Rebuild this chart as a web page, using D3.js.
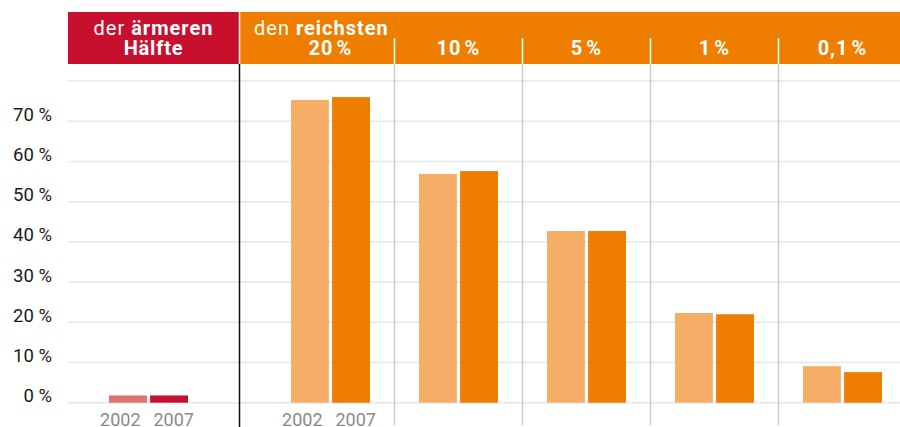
<!DOCTYPE html>
<html><head><meta charset="utf-8">
<script src="https://cdn.jsdelivr.net/npm/d3@7"></script>
<style>body{margin:0;background:#fff}svg{display:block;font-family:Roboto,"Helvetica Neue",Arial,sans-serif}</style>
</head><body><svg id="c" width="900" height="427"></svg>
<script>
const years = ["2002", "2007"];
const poorLabel = ["der ", "ärmeren", "Hälfte"];
const poorValues = [1.8, 1.8];
const richGroups = ["20 %", "10 %", "5 %", "1 %", "0,1 %"];
const richValues2002 = [75.3, 56.9, 42.7, 22.3, 9.1];
const richValues2007 = [76.0, 57.6, 42.7, 22.0, 7.6];
const yTicks = [0, 10, 20, 30, 40, 50, 60, 70, 80];

const svg = d3.select("#c");
const y = d3.scaleLinear().domain([0, 80]).range([402.7, 81]);
const xRich = d3.scaleBand().domain(richGroups).range([266.5, 906.5]);
const xPoor = d3.scaleBand().domain(["poor"]).range([84.5, 212.5]);
const xInner = d3.scaleBand().domain(years).range([-39.5, 39.5]).paddingInner(3/79*2.05);

// gridlines
svg.append("g").selectAll("line").data(yTicks).join("line")
  .attr("x1", 68).attr("x2", 900).attr("y1", d => y(d)).attr("y2", d => y(d))
  .attr("stroke", "#e6e6e6").attr("stroke-width", 1.5);
svg.append("g").selectAll("text").data(yTicks.filter(d => d < 80)).join("text")
  .attr("x", 52).attr("y", d => y(d) - 0.5).attr("text-anchor", "end")
  .attr("font-size", 18.5).attr("fill", "#1a1a1a").text(d => d + " %");

// header
svg.append("rect").attr("x", 68).attr("y", 12).attr("width", 171).attr("height", 52).attr("fill", "#c8102e");
svg.append("rect").attr("x", 240).attr("y", 12).attr("width", 660).attr("height", 52).attr("fill", "#ef7d00");
const ht = svg.append("text").attr("x", 153.5).attr("y", 35).attr("text-anchor", "middle")
  .attr("font-size", 20).attr("letter-spacing", 1).attr("fill", "#fff");
ht.append("tspan").text(poorLabel[0]);
ht.append("tspan").attr("font-weight", "bold").text(poorLabel[1]);
svg.append("text").attr("x", 153.5).attr("y", 55).attr("text-anchor", "middle")
  .attr("font-size", 20).attr("letter-spacing", 0.8).attr("font-weight", "bold").attr("fill", "#fff").text(poorLabel[2]);
const rt = svg.append("text").attr("x", 254).attr("y", 35).attr("font-size", 20).attr("letter-spacing", 1).attr("fill", "#fff");
rt.append("tspan").text("den ");
rt.append("tspan").attr("font-weight", "bold").text("reichsten");
svg.append("g").selectAll("text").data(richGroups).join("text")
  .attr("x", d => xRich(d) + xRich.bandwidth() / 2).attr("y", 55).attr("text-anchor", "middle")
  .attr("font-size", 20).attr("font-weight", "bold").attr("fill", "#fff").attr("letter-spacing", 1)
  .text(d => d.replace(" ", "\u200A"));

// separators
const seps = richGroups.slice(1).map(d => xRich(d));
svg.append("g").selectAll("line").data(seps).join("line")
  .attr("x1", d => d).attr("x2", d => d).attr("y1", 38).attr("y2", 64)
  .attr("stroke", "#fff").attr("stroke-width", 1.5);
svg.append("g").selectAll("line").data(seps).join("line")
  .attr("x1", d => d).attr("x2", d => d).attr("y1", 64).attr("y2", 425)
  .attr("stroke", "#cccccc").attr("stroke-width", 1.5);
svg.append("line").attr("x1", 239.5).attr("x2", 239.5).attr("y1", 12).attr("y2", 64)
  .attr("stroke", "#fff").attr("stroke-width", 1.5);
svg.append("line").attr("x1", 239.5).attr("x2", 239.5).attr("y1", 64).attr("y2", 427)
  .attr("stroke", "#111").attr("stroke-width", 1.5);

// bars
const poorColors = ["#dc736c", "#c8102e"];
const richColors = ["#f6ae66", "#ef7d00"];
const pc = xPoor("poor") + xPoor.bandwidth() / 2;
svg.append("g").selectAll("rect").data(years).join("rect")
  .attr("x", (d) => pc + xInner(d)).attr("width", xInner.bandwidth())
  .attr("y", (d, i) => y(poorValues[i])).attr("height", (d, i) => y(0) - y(poorValues[i]))
  .attr("fill", (d, i) => poorColors[i]);
const richSeries = [richValues2002, richValues2007];
years.forEach((yr, s) => {
  svg.append("g").selectAll("rect").data(richGroups).join("rect")
    .attr("x", d => xRich(d) + xRich.bandwidth() / 2 + xInner(yr)).attr("width", xInner.bandwidth())
    .attr("y", (d, i) => y(richSeries[s][i])).attr("height", (d, i) => y(0) - y(richSeries[s][i]))
    .attr("fill", richColors[s]);
});

// year labels
const yearCenters = [pc, xRich(richGroups[0]) + xRich.bandwidth() / 2];
yearCenters.forEach(c => {
  svg.append("text").attr("x", c - 8).attr("y", 425.5).attr("text-anchor", "end")
    .attr("font-size", 18).attr("fill", "#8a8a8a").text(years[0]);
  svg.append("text").attr("x", c + 5).attr("y", 425.5).attr("text-anchor", "start")
    .attr("font-size", 18).attr("fill", "#8a8a8a").text(years[1]);
});
</script></body></html>
